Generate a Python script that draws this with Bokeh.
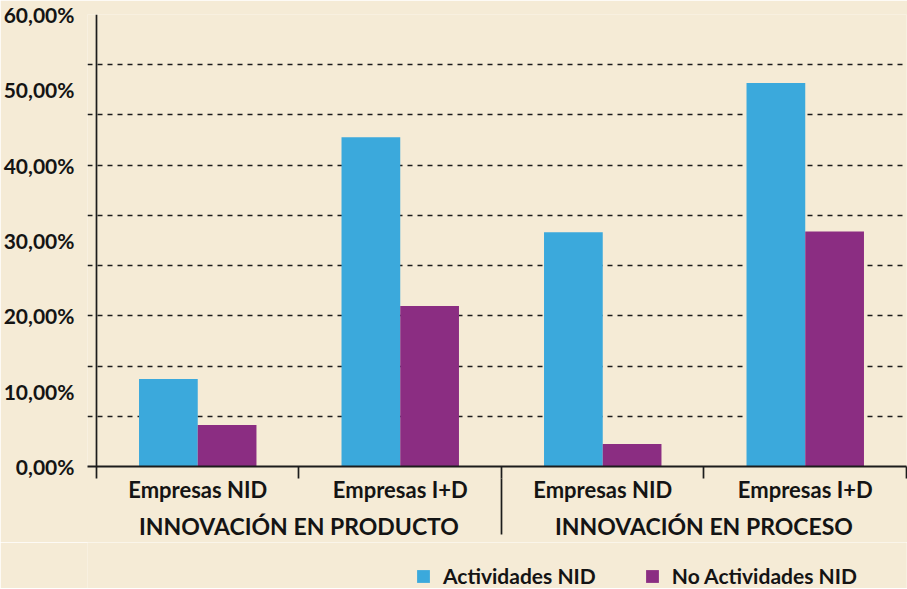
from bokeh.plotting import figure
from bokeh.layouts import column
from bokeh.models import (LinearAxis, FixedTicker, Grid, Range1d, Legend,
                          LegendItem, ColumnDataSource)
from bokeh.transform import dodge
from bokeh.embed import file_html
from bokeh.resources import INLINE

# ---- data ----
groups = ["INNOVACIÓN EN PRODUCTO", "INNOVACIÓN EN PROCESO"]
categories = ["Empresas NID", "Empresas I+D", "Empresas NID", "Empresas I+D"]
series_names = ["Actividades NID", "No Actividades NID"]
actividades_nid = [11.6, 43.7, 31.1, 50.9]
no_actividades_nid = [5.5, 21.3, 3.0, 31.2]
y_ticks = [0, 10, 20, 30, 40, 50, 60]
y_tick_labels = ["0,00%", "10,00%", "20,00%", "30,00%", "40,00%", "50,00%", "60,00%"]
y_max = 60
grid_count = 9

BG = "#F5EBD6"
BLUE = "#3BA9DC"
PURPLE = "#8B2D82"
TXT = "#141414"
LINE = "#1C1C1C"
FONT = "Lato"

n = len(categories)
cat_pos = [i + 0.5 for i in range(n)]
group_pos = [1.0, 3.0]
src = ColumnDataSource(dict(x=cat_pos, a=actividades_nid, b=no_actividades_nid))

W = 907
H_MAIN = 542
H_LEG = 46

p = figure(width=W, height=H_MAIN,
           x_range=Range1d(-0.0444, n), y_range=Range1d(0, y_max),
           x_axis_type=None, y_axis_type=None,
           output_backend="svg", toolbar_location=None,
           min_border_left=79, min_border_right=1, min_border_top=14,
           min_border_bottom=0,
           background_fill_color=BG, border_fill_color=BG,
           outline_line_color=None)

# grid lines
step = y_max / grid_count
p.add_layout(Grid(dimension=1, ticker=FixedTicker(ticks=[step * k for k in range(1, grid_count)]),
                  grid_line_color=LINE, grid_line_width=1.7, grid_line_dash="5 5"))
p.add_layout(Grid(dimension=1, ticker=FixedTicker(ticks=[y_max]),
                  grid_line_color=LINE, grid_line_width=1.7))
p.add_layout(Grid(dimension=0, ticker=FixedTicker(ticks=[0, n]),
                  grid_line_color=LINE, grid_line_width=1.7))

bw = 0.29
r1 = p.vbar(x=dodge("x", -bw / 2, range=p.x_range), top="a", width=bw, source=src,
            fill_color=BLUE, line_color=None)
r2 = p.vbar(x=dodge("x", bw / 2, range=p.x_range), top="b", width=bw, source=src,
            fill_color=PURPLE, line_color=None)

# y axis
yaxis = LinearAxis(ticker=FixedTicker(ticks=y_ticks, minor_ticks=[]),
                   major_label_overrides=dict(zip(y_ticks, y_tick_labels)),
                   axis_line_color=None, major_tick_line_color=None,
                   minor_tick_line_color=None, major_tick_out=0, major_tick_in=0,
                   major_label_standoff=13,
                   major_label_text_font=FONT, major_label_text_font_style="bold",
                   major_label_text_font_size="21px", major_label_text_color=TXT)
p.add_layout(yaxis, "left")

# x axis: categories
xaxis = LinearAxis(ticker=FixedTicker(ticks=cat_pos, minor_ticks=list(range(n + 1))),
                   major_label_overrides=dict(zip(cat_pos, categories)),
                   axis_line_color=LINE, axis_line_width=2,
                   major_tick_line_color=None, major_tick_out=0, major_tick_in=0,
                   minor_tick_line_color=LINE, minor_tick_line_width=1.7,
                   minor_tick_out=12, minor_tick_in=0,
                   major_label_standoff=-3,
                   major_label_text_font=FONT, major_label_text_font_style="bold",
                   major_label_text_font_size="22px", major_label_text_color=TXT)
p.add_layout(xaxis, "below")

# x axis: groups (with the long separator between the two groups)
gaxis = LinearAxis(ticker=FixedTicker(ticks=group_pos, minor_ticks=[2]),
                   major_label_overrides=dict(zip(group_pos, groups)),
                   axis_line_color=None,
                   major_tick_line_color=None, major_tick_out=0, major_tick_in=0,
                   minor_tick_line_color=LINE, minor_tick_line_width=1.7,
                   minor_tick_out=29, minor_tick_in=27,
                   major_label_standoff=-23,
                   major_label_text_font=FONT, major_label_text_font_style="bold",
                   major_label_text_font_size="23px", major_label_text_color=TXT)
p.add_layout(gaxis, "below")

# legend strip below the chart (same series; zero-width bars so nothing is drawn)
lg = figure(width=W, height=H_LEG, x_range=p.x_range, y_range=Range1d(-2, -1),
            x_axis_type=None, y_axis_type=None,
            output_backend="svg", toolbar_location=None,
            min_border=0, background_fill_color=BG, border_fill_color=BG,
            outline_line_color=None)
l1 = lg.vbar(x="x", top="a", width=0, source=src, fill_color=BLUE, line_color=None)
l2 = lg.vbar(x="x", top="b", width=0, source=src, fill_color=PURPLE, line_color=None)
legend = Legend(items=[LegendItem(label=series_names[0], renderers=[l1]),
                       LegendItem(label=series_names[1], renderers=[l2])],
                orientation="horizontal", location=(328, 0),
                background_fill_alpha=0, border_line_color=None,
                label_text_font=FONT, label_text_font_style="bold",
                label_text_font_size="21px", label_text_color=TXT,
                label_height=16, glyph_width=16, glyph_height=16, label_standoff=12,
                spacing=48, padding=0, margin=0)
lg.add_layout(legend, "center")

open("out.html", "w").write(file_html(column(p, lg, spacing=0), INLINE))
